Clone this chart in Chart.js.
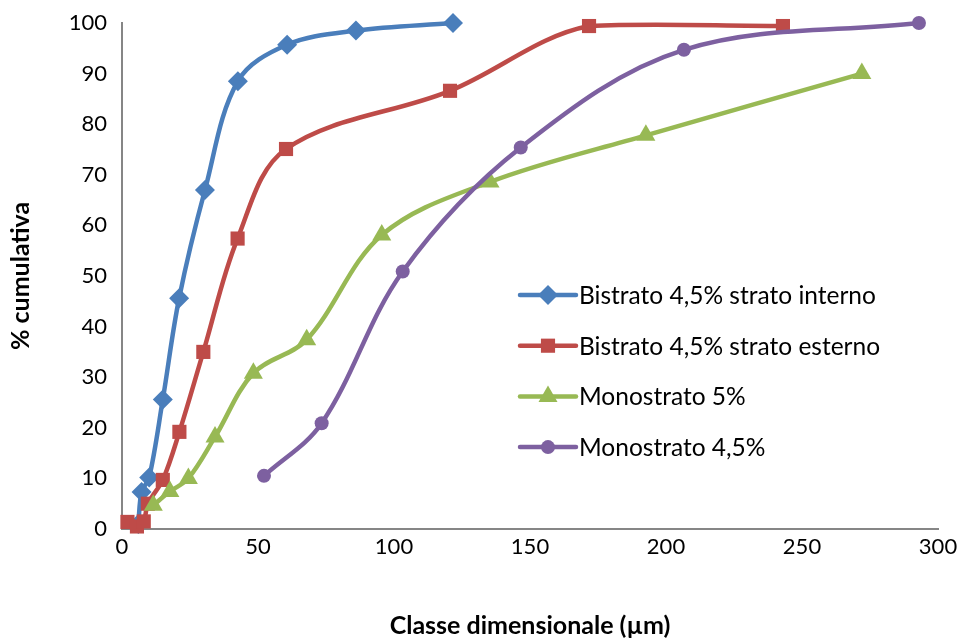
<!DOCTYPE html>
<html>
<head>
<meta charset="utf-8">
<script src="https://cdn.jsdelivr.net/npm/chart.js@4.4.0/dist/chart.umd.min.js"></script>
<style>
  html, body { margin: 0; padding: 0; background: #fff; }
  #wrap { width: 964px; height: 639px; }
</style>
</head>
<body>
<div id="wrap"><canvas id="myChart" width="964" height="639"></canvas></div>
<script>
// legend labels
var seriesNames = ["Bistrato 4,5% strato interno", "Bistrato 4,5% strato esterno", "Monostrato 5%", "Monostrato 4,5%"];

// x = classe dimensionale (µm), y = % cumulativa
var internoX = [6, 7.2, 10, 15, 21, 30.5, 42.6, 60.7, 86, 121.7];
var internoY = [1, 7.3, 10.2, 25.6, 45.6, 67, 88.5, 95.7, 98.5, 100];

var esternoX = [2, 5.5, 8, 9.5, 15, 21.1, 29.9, 42.5, 60.3, 120.6, 171.7, 243];
var esternoY = [1.4, 0.5, 1.5, 5, 9.7, 19.2, 35, 57.4, 75.1, 86.6, 99.4, 99.4];

var mono5X = [11.5, 17.6, 24.4, 34.2, 48.3, 67.9, 95.5, 135.3, 192.6, 272];
var mono5Y = [4.7, 7.4, 10, 18.2, 30.8, 37.4, 58.1, 68.6, 77.8, 90];

var mono45X = [52.2, 73.4, 103.2, 146.6, 206.6, 293];
var mono45Y = [10.5, 20.9, 50.9, 75.4, 94.7, 100];

var xTicks = [0, 50, 100, 150, 200, 250, 300];
var yTicks = [0, 10, 20, 30, 40, 50, 60, 70, 80, 90, 100];

function pts(xs, ys) {
	var out = [];
	for (var i = 0; i < xs.length; i++) out.push({x: xs[i], y: ys[i]});
	return out;
}

var FONT = "Lato, 'Open Sans', sans-serif";

// later series are drawn on top, as in the original
function serie(i, xs, ys, color, style, r) {
	return {
		label: seriesNames[i],
		data: pts(xs, ys),
		order: 4 - i,
		borderColor: color,
		backgroundColor: color,
		borderWidth: 4.5,
		pointStyle: style,
		pointRadius: r,
		pointBorderWidth: 0,
		tension: 0.35,
		clip: false
	};
}

// legend drawn inside the plot, line + marker like Excel
var insideLegend = {
	id: 'insideLegend',
	afterDraw: function(chart) {
		var ctx = chart.ctx;
		var x0 = 520, x1 = 576, tx = 579, y0 = 295, dy = 50.7;
		chart.data.datasets.forEach(function(ds, i) {
			var y = y0 + i * dy;
			ctx.save();
			ctx.strokeStyle = ds.borderColor;
			ctx.lineWidth = 4.5;
			ctx.lineCap = 'round';
			ctx.beginPath();
			ctx.moveTo(x0, y);
			ctx.lineTo(x1, y);
			ctx.stroke();
			ctx.fillStyle = ds.backgroundColor;
			Chart.helpers.drawPoint(ctx, {pointStyle: ds.pointStyle, radius: ds.pointRadius, borderWidth: 0}, (x0 + x1) / 2, y);
			ctx.fillStyle = '#000';
			ctx.font = "24.5px " + FONT;
			ctx.textBaseline = 'middle';
			ctx.textAlign = 'left';
			ctx.fillText(ds.label, tx, y + 1);
			ctx.restore();
		});
	}
};

var ctx = document.getElementById("myChart").getContext("2d");
var myNewChart = new Chart(ctx, {
	type: 'line',
	data: {
		datasets: [
			serie(0, internoX, internoY, '#4A7EBB', 'rectRot', 10),
			serie(1, esternoX, esternoY, '#BE4B48', 'rect', 10),
			serie(2, mono5X, mono5Y, '#98B954', 'triangle', 11),
			serie(3, mono45X, mono45Y, '#7D60A0', 'circle', 7)
		]
	},
	options: {
		responsive: false,
		animation: false,
		layout: { padding: { left: 0, top: 23, right: 26, bottom: 0 } },
		plugins: {
			legend: { display: false },
			tooltip: { enabled: false }
		},
		scales: {
			x: {
				type: 'linear',
				min: 0, max: 300,
				afterBuildTicks: function(s) { s.ticks = xTicks.map(function(v) { return {value: v}; }); },
				afterFit: function(s) { s.height = 110; },
				grid: { display: false, drawTicks: false },
				border: { display: true, color: '#868686', width: 2 },
				ticks: { color: '#000', padding: 5, font: { family: FONT, size: 22 } },
				title: { display: true, text: 'Classe dimensionale (µm)', color: '#000', padding: { top: 0, bottom: -2 }, font: { family: FONT, size: 25, weight: 'bold' } }
			},
			y: {
				min: 0, max: 100,
				afterBuildTicks: function(s) { s.ticks = yTicks.map(function(v) { return {value: v}; }); },
				afterFit: function(s) { s.width = 122; s.paddingTop = 0; s.paddingBottom = 0; },
				grid: { display: false, drawTicks: false },
				border: { display: true, color: '#868686', width: 2 },
				ticks: { color: '#000', padding: 15, font: { family: FONT, size: 22 } },
				title: { display: true, text: '% cumulativa', color: '#000', padding: { top: 6, bottom: 0 }, font: { family: FONT, size: 25, weight: 'bold' } }
			}
		}
	},
	plugins: [insideLegend]
});
</script>
</body>
</html>
